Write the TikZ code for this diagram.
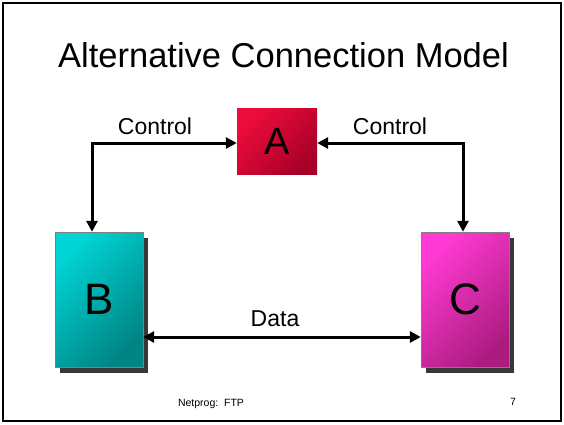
\documentclass[tikz,border=0pt]{standalone}
\usepackage{fontspec}
\setmainfont{Liberation Sans}
\usetikzlibrary{arrows.meta,shadows}

\definecolor{redlt}{RGB}{238,12,58}
\definecolor{reddk}{RGB}{168,0,40}
\definecolor{teallt}{RGB}{0,212,212}
\definecolor{tealdk}{RGB}{0,132,132}
\definecolor{magentalt}{RGB}{255,58,212}
\definecolor{magentadk}{RGB}{172,28,128}

\tikzset{
  box/.style={draw=gray,thin,inner sep=0pt,minimum width=88pt,minimum height=135pt,
    font=\fontsize{44}{44}\selectfont,
    drop shadow={shadow xshift=5pt,shadow yshift=-6pt,fill=black!78,opacity=1}},
  link/.style={line width=3pt,{Triangle[length=11pt,width=11pt]}-{Triangle[length=11pt,width=11pt]}},
  lbl/.style={font=\fontsize{23}{23}\selectfont},
}

\begin{document}
\begin{tikzpicture}[x=1pt,y=-1pt]
\useasboundingbox (0,0) rectangle (564,424);
\draw[line width=2pt] (3,3) rectangle (561,421);

\node (title) at (283.5,55) {\fontsize{34.5}{36}\selectfont Alternative Connection Model};

% the three hosts
\node[inner sep=0pt,minimum width=80pt,minimum height=66pt,top color=redlt,bottom color=reddk,shading angle=45,
  font=\fontsize{38}{38}\selectfont] (A) at (277,141) {A};
\node[box,top color=teallt,bottom color=tealdk,shading angle=45] (B) at (99,299.5) {B};
\node[box,top color=magentalt,bottom color=magentadk,shading angle=45] (C) at (465,299.5) {C};

% control links
\coordinate (ltop) at (92,143);
\coordinate (rtop) at (463,143);
\draw[link] (A.west |- ltop) -- (ltop) -- (ltop |- B.north);
\draw[link] (A.east |- rtop) -- (rtop) -- (rtop |- C.north);
\node[lbl] (ctla) at (155,126.5) {Control};
\node[lbl] (ctlb) at (390,126.5) {Control};

% data link
\draw[link] ([yshift=-37.5pt]B.east) -- ([yshift=-37.5pt]C.west);
\node[lbl] (data) at (275,318.5) {Data};

\node[anchor=base,font=\fontsize{10.5}{11}\selectfont] (foot) at (211,406) {Netprog:\ \ FTP};
\node[anchor=base,font=\fontsize{10.5}{11}\selectfont] (page) at (513,405) {7};
\end{tikzpicture}
\end{document}
